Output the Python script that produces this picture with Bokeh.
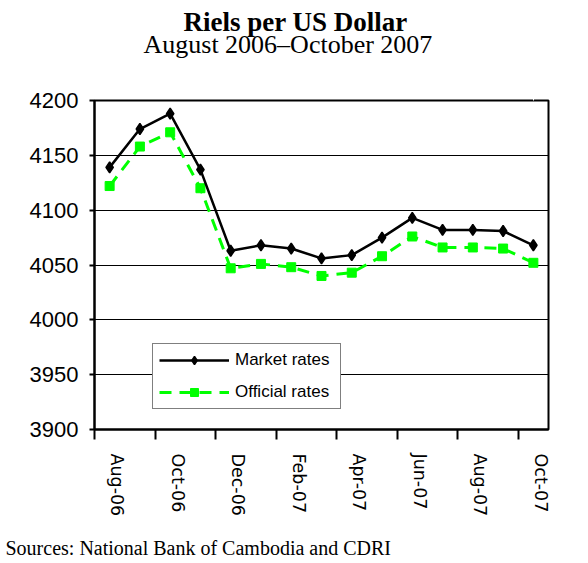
from bokeh.plotting import figure
from bokeh.models import (Range1d, FixedTicker, Legend, LegendItem, Title,
                          LinearAxis)
from bokeh.embed import file_html
from bokeh.resources import INLINE

# ---- data ----
months = ["Aug-06", "Sep-06", "Oct-06", "Nov-06", "Dec-06", "Jan-07", "Feb-07",
          "Mar-07", "Apr-07", "May-07", "Jun-07", "Jul-07", "Aug-07", "Sep-07", "Oct-07"]
market_rates = [4139, 4174, 4188, 4137, 4063, 4068, 4065, 4056, 4059, 4075,
                4093, 4082, 4082, 4081, 4068]
official_rates = [4122, 4158, 4171, 4120, 4047, 4051, 4048, 4040, 4043, 4058,
                  4076, 4066, 4066, 4065, 4052]
y_ticks = [3900, 3950, 4000, 4050, 4100, 4150, 4200]
x_tick_labels = months[::2]

title_text = "Riels per US Dollar"
subtitle_text = "August 2006\u2013October 2007"
source_text = "Sources: National Bank of Cambodia and CDRI"

# ---- positions on the category axis ----
x = list(range(len(months)))
LABEL_SHIFT = 0.25
label_pos = [i + LABEL_SHIFT for i in x[::2]]
boundaries = [i - 0.5 for i in x[::2]]

p = figure(width=588, height=563, output_backend="svg", toolbar_location=None,
           x_range=Range1d(-0.5, len(months) - 0.5),
           y_range=Range1d(y_ticks[0], y_ticks[-1]),
           min_border_left=94, min_border_right=40, min_border_top=100,
           min_border_bottom=134)
p.background_fill_color = "white"
p.border_fill_color = "white"
p.outline_line_color = "black"
p.outline_line_width = 2
p.outline_line_alpha = 1

# grid
p.xgrid.visible = False
p.ygrid.grid_line_color = "black"
p.ygrid.grid_line_width = 1

# x axis
xa = p.xaxis[0]
xa.ticker = FixedTicker(ticks=label_pos, minor_ticks=boundaries)
xa.major_label_overrides = {pos: lab for pos, lab in zip(label_pos, x_tick_labels)}
xa.major_tick_out = 0
xa.major_tick_in = 0
xa.minor_tick_out = 10
xa.minor_tick_in = 0
xa.minor_tick_line_color = "black"
xa.minor_tick_line_width = 2
xa.axis_line_color = "black"
xa.axis_line_width = 2
xa.major_label_orientation = "vertical"
xa.major_label_text_font = "DejaVu Sans"
xa.major_label_text_font_size = "17.5px"
xa.major_label_text_color = "black"
xa.major_label_standoff = 14

# y axis
ya = p.yaxis[0]
ya.ticker = FixedTicker(ticks=y_ticks)
ya.major_tick_out = 5
ya.major_tick_in = 0
ya.minor_tick_out = 0
ya.minor_tick_in = 0
ya.major_tick_line_color = "black"
ya.major_tick_line_width = 2
ya.axis_line_color = "black"
ya.axis_line_width = 2
ya.major_label_text_font = "Liberation Sans"
ya.major_label_text_font_size = "22px"
ya.major_label_text_color = "black"
ya.major_label_standoff = 11

# series
r2 = p.line(x, official_rates, line_color="#00FF00", line_width=3, line_dash="12 8")
r2m = p.scatter(x, official_rates, marker="square", size=9, fill_color="#00FF00",
                line_color="#00FF00", line_width=1)
r1 = p.line(x, market_rates, line_color="black", line_width=2.5)
r1m = p.scatter(x, market_rates, marker="diamond", size=11, fill_color="black",
                line_color="black", line_width=1.5)

legend = Legend(items=[LegendItem(label="Market rates", renderers=[r1, r1m]),
                       LegendItem(label="Official rates", renderers=[r2, r2m])],
                location=(58, 20), padding=6, spacing=12, glyph_width=70,
                glyph_height=20, label_standoff=6, label_width=99,
                label_text_font="Liberation Sans", label_text_font_size="17px",
                label_text_color="black",
                border_line_color="black", border_line_width=1.5,
                background_fill_color="white", background_fill_alpha=1, margin=0)
p.add_layout(legend)

SPACER_TICK = x[-1]


def spacer(size):
    # white-on-white axis with one unlabeled tick: only reserves room in a panel
    return LinearAxis(ticker=FixedTicker(ticks=[SPACER_TICK]),
                      major_label_overrides={SPACER_TICK: ""},
                      major_tick_out=size, major_tick_in=0,
                      minor_tick_out=0, minor_tick_in=0,
                      axis_line_color=None, major_tick_line_color="white",
                      major_tick_line_width=1, minor_tick_line_color=None,
                      major_label_standoff=0)


# titles (first added sits nearest the frame)
p.add_layout(spacer(42), "above")
p.add_layout(Title(text=subtitle_text, text_font="Liberation Serif",
                   text_font_size="26px", text_font_style="normal",
                   text_color="black", align="left", offset=49, standoff=0,
                   vertical_align="bottom"), "above")
p.add_layout(Title(text=title_text, text_font="Liberation Serif",
                   text_font_size="27px", text_font_style="bold",
                   text_color="black", align="left", offset=89, standoff=-18,
                   vertical_align="bottom"), "above")

# source line below the axis
p.add_layout(spacer(15), "below")
p.add_layout(Title(text=source_text, text_font="Liberation Serif",
                   text_font_size="20px", text_font_style="normal",
                   text_color="black", align="left", offset=-89, standoff=0,
                   vertical_align="bottom"), "below")

open("out.html", "w").write(file_html(p, INLINE))
